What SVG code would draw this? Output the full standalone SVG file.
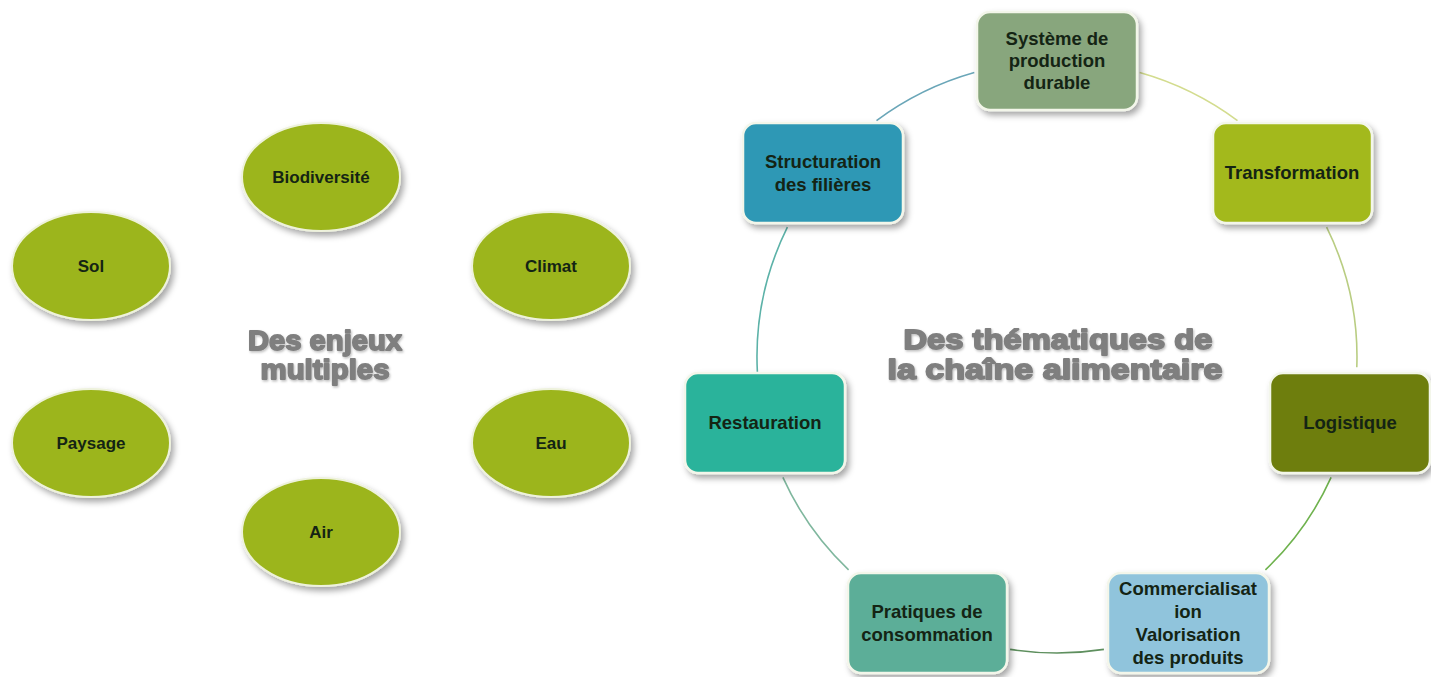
<svg xmlns="http://www.w3.org/2000/svg" width="1431" height="677" viewBox="0 0 1431 677">
  <defs>
    <filter id="shadow" x="-20%" y="-20%" width="150%" height="150%">
      <feDropShadow dx="3" dy="4" stdDeviation="3" flood-color="#000" flood-opacity="0.35"/>
    </filter>
    <filter id="tshadow" x="-10%" y="-20%" width="120%" height="150%">
      <feDropShadow dx="1" dy="1.5" stdDeviation="1" flood-color="#000" flood-opacity="0.25"/>
    </filter>
    <style>
      .ell { fill: #9cb51b; stroke: #eef2dc; stroke-width: 2; filter: url(#shadow); }
      .box { stroke: #f3f6ea; stroke-width: 2.5; filter: url(#shadow); }
      .lbl { font-family: "Liberation Sans", Arial, sans-serif; font-weight: bold; fill: #142414; text-anchor: middle; }
      .el { font-size: 17px; }
      .bl { font-size: 18.5px; }
      .title { font-family: "Liberation Sans", Arial, sans-serif; font-weight: bold; font-size: 28px; fill: #7f7f7f; stroke: #7f7f7f; stroke-width: 1.8; stroke-linejoin: round; text-anchor: middle; filter: url(#tshadow); }
      .arc { fill: none; stroke-width: 1.6; }
    </style>
  </defs>
  <rect width="1431" height="677" fill="#ffffff"/>

  <!-- Left: ellipses -->
  <g id="biodiversite"><ellipse class="ell" cx="321" cy="177" rx="79" ry="54"/><text class="lbl el" x="321" y="183">Biodiversité</text></g>
  <g id="sol"><ellipse class="ell" cx="91" cy="266" rx="79" ry="54"/><text class="lbl el" x="91" y="272">Sol</text></g>
  <g id="climat"><ellipse class="ell" cx="551" cy="266" rx="79" ry="54"/><text class="lbl el" x="551" y="272">Climat</text></g>
  <g id="paysage"><ellipse class="ell" cx="91" cy="443" rx="79" ry="54"/><text class="lbl el" x="91" y="449">Paysage</text></g>
  <g id="eau"><ellipse class="ell" cx="551" cy="443" rx="79" ry="54"/><text class="lbl el" x="551" y="449">Eau</text></g>
  <g id="air"><ellipse class="ell" cx="321" cy="532" rx="79" ry="54"/><text class="lbl el" x="321" y="538">Air</text></g>

  <g id="title-left">
    <text class="title" x="325" y="350" textLength="154" lengthAdjust="spacingAndGlyphs">Des enjeux</text>
    <text class="title" x="325" y="379" textLength="129" lengthAdjust="spacingAndGlyphs">multiples</text>
  </g>

  <!-- Right: connectors -->
  <g id="connectors">
    <path class="arc" stroke="#6aa6b8" d="M876.5,120.6 A300,296 0 0 1 974.3,72.5"/>
    <path class="arc" stroke="#d3dc8e" d="M1139.7,72.5 A300,296 0 0 1 1237.5,120.6"/>
    <path class="arc" stroke="#b9cd82" d="M1326.6,227.2 A300,296 0 0 1 1356.8,367.3"/>
    <path class="arc" stroke="#6fb24e" d="M1331.1,477.4 A300,296 0 0 1 1265.4,569.9"/>
    <path class="arc" stroke="#5e8f5e" d="M1103.9,649.4 A300,296 0 0 1 1010.1,649.4"/>
    <path class="arc" stroke="#7fb79e" d="M848.6,569.9 A300,296 0 0 1 782.9,477.4"/>
    <path class="arc" stroke="#5cb2a8" d="M757.4,372.5 A300,296 0 0 1 787.4,227.2"/>
  </g>

  <!-- Right: nodes -->
  <g id="systeme">
    <rect class="box" x="977" y="12" width="160" height="98" rx="13" fill="#88a67d"/>
    <text class="lbl bl" x="1057" y="45">Système de</text>
    <text class="lbl bl" x="1057" y="67">production</text>
    <text class="lbl bl" x="1057" y="89">durable</text>
  </g>
  <g id="transformation">
    <rect class="box" x="1213" y="123" width="159" height="100" rx="13" fill="#a3b91b"/>
    <text class="lbl bl" x="1292" y="179">Transformation</text>
  </g>
  <g id="logistique">
    <rect class="box" x="1270" y="373" width="160" height="100" rx="13" fill="#6e7e10"/>
    <text class="lbl bl" x="1350" y="429">Logistique</text>
  </g>
  <g id="commercialisation">
    <rect class="box" x="1108" y="573" width="161" height="100" rx="13" fill="#90c4dc"/>
    <text class="lbl bl" x="1188" y="595">Commercialisat</text>
    <text class="lbl bl" x="1188" y="618">ion</text>
    <text class="lbl bl" x="1188" y="641">Valorisation</text>
    <text class="lbl bl" x="1188" y="664">des produits</text>
  </g>
  <g id="pratiques">
    <rect class="box" x="848" y="573" width="159" height="100" rx="13" fill="#5bae98"/>
    <text class="lbl bl" x="927" y="618">Pratiques de</text>
    <text class="lbl bl" x="927" y="641">consommation</text>
  </g>
  <g id="restauration">
    <rect class="box" x="685" y="373" width="160" height="100" rx="13" fill="#2ab39b"/>
    <text class="lbl bl" x="765" y="429">Restauration</text>
  </g>
  <g id="structuration">
    <rect class="box" x="743" y="123" width="160" height="100" rx="13" fill="#2f98b5"/>
    <text class="lbl bl" x="823" y="168">Structuration</text>
    <text class="lbl bl" x="823" y="191">des filières</text>
  </g>

  <g id="title-right">
    <text class="title" x="1058" y="349" textLength="309" lengthAdjust="spacingAndGlyphs">Des thématiques de</text>
    <text class="title" x="1055" y="379" textLength="335" lengthAdjust="spacingAndGlyphs">la chaîne alimentaire</text>
  </g>
</svg>
